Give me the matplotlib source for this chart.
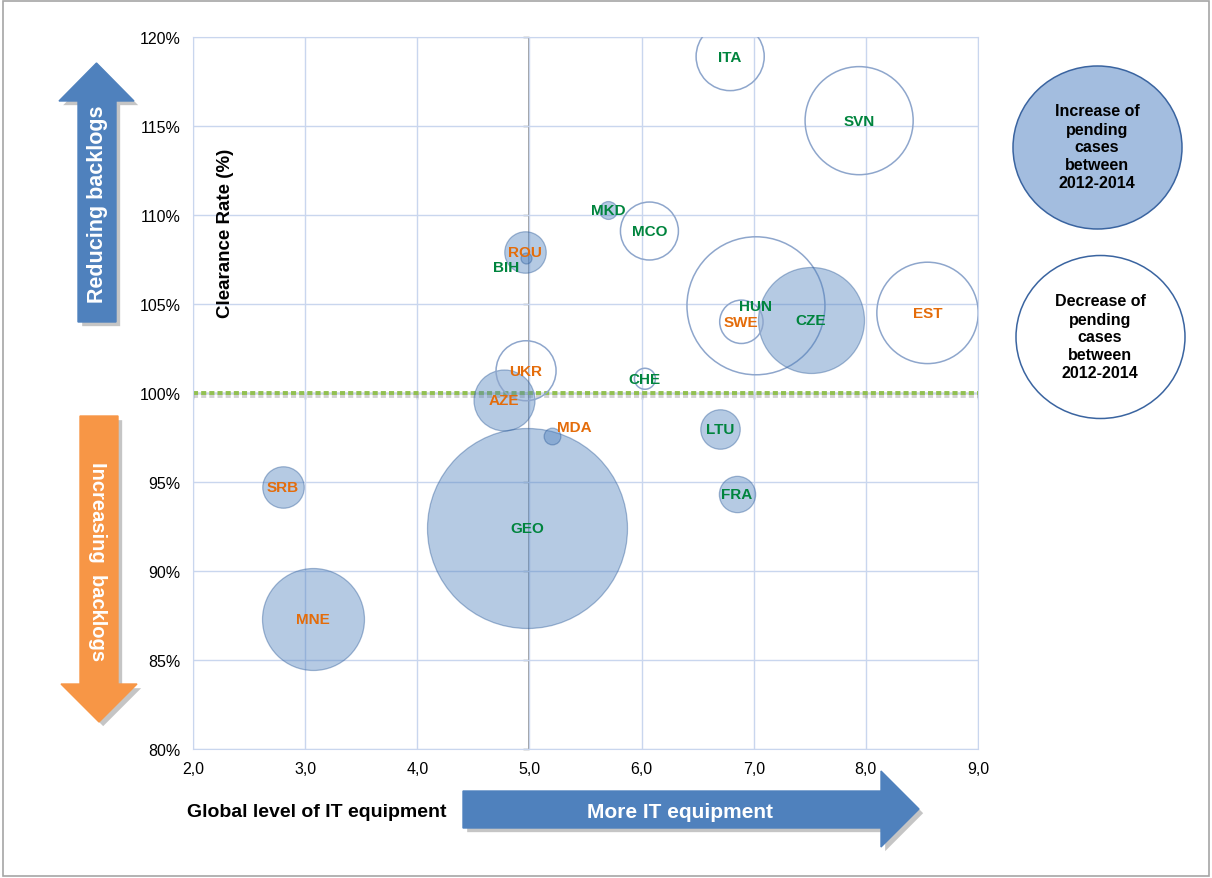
import numpy as np
import matplotlib
matplotlib.use('Agg')
import matplotlib.pyplot as plt
import matplotlib.patches as mpatches
import matplotlib.patheffects as pe

plt.rcParams['font.family'] = ['Liberation Sans', 'DejaVu Sans']

# data
countries = ['ITA', 'SVN', 'MKD', 'MCO', 'ROU', 'BIH', 'UKR', 'AZE', 'CHE', 'MDA',
             'HUN', 'SWE', 'CZE', 'EST', 'LTU', 'FRA', 'SRB', 'MNE', 'GEO']
it_level = [6.79, 7.94, 5.70, 6.07, 4.96, 4.97, 4.97, 4.77, 6.03, 5.20,
            7.02, 6.89, 7.51, 8.55, 6.70, 6.85, 2.80, 3.07, 4.98]
clearance = [118.9, 115.3, 110.3, 109.1, 107.9, 107.6, 101.25, 99.6, 100.8, 97.6,
             104.9, 104.0, 104.1, 104.5, 98.0, 94.3, 94.7, 87.3, 92.4]
bubble_size = [11.6, 29.2, 0.8, 8.4, 4.3, 0.3, 9.0, 9.3, 1.1, 0.7,
               47.6, 4.7, 28.1, 25.7, 3.9, 3.3, 4.3, 26.0, 100.0]
pending_up = [False, False, True, False, True, True, False, True, False, True,
              False, False, True, False, True, True, True, True, True]
label_orange = [False, False, False, False, True, False, True, True, False, True,
                False, True, False, True, False, False, True, True, False]

x_ticks = [2, 3, 4, 5, 6, 7, 8, 9]
y_ticks = [80, 85, 90, 95, 100, 105, 110, 115, 120]

W, H = 1212, 879
fig = plt.figure(figsize=(W / 100, H / 100), dpi=100)
ax = fig.add_axes([193 / W, 1 - 750 / H, (978 - 193) / W, (750 - 38) / H])


def px(x, y):
    # pixel position -> inches (for drawing decorations in figure space)
    return (x / 100, (H - y) / 100)


grid_col = '#C9D6EE'
ax.set_xlim(2, 9)
ax.set_ylim(80, 120)
ax.set_xticks(x_ticks)
ax.set_yticks(y_ticks)
ax.set_xticklabels([f'{v:.1f}'.replace('.', ',') for v in x_ticks], fontsize=11.5)
ax.set_yticklabels([f'{v}%' for v in y_ticks], fontsize=11.5)
ax.tick_params(length=0, pad=9)
ax.grid(True, color=grid_col, lw=1)
for s in ax.spines.values():
    s.set_color(grid_col)

# crossing axes at x=5 and y=100%
ax.axvline(5, color='#7F7F7F', lw=1.1, zorder=1)
ax.plot(np.full(len(y_ticks), 5.0), y_ticks, ls='none', marker=0, ms=4,
        color='#7F7F7F', mew=1, zorder=1, clip_on=False)
ax.axhline(100, color='#808080', lw=1, zorder=1)
ax.plot(x_ticks, np.full(len(x_ticks), 100.0), ls='none', marker=3, ms=4,
        color='#808080', mew=1, zorder=1)
ax.axhline(100, color='#92C050', lw=2.8, ls=(0, (1.3, 0.8)), zorder=2,
           path_effects=[pe.SimpleLineShadow(offset=(0, -2.5), shadow_color='#808080', alpha=0.35),
                         pe.Normal()])

# bubbles, biggest first
order = np.argsort(bubble_size)[::-1]
for i in order:
    s = bubble_size[i] * (2 * 10 * 0.72) ** 2
    if pending_up[i]:
        ax.scatter(it_level[i], clearance[i], s=s, color='#4F81BD', alpha=0.42,
                   edgecolors='#2E5C99', linewidths=0.9, zorder=3)
    else:
        ax.scatter(it_level[i], clearance[i], s=s, facecolors='none',
                   edgecolors='#8EA6CC', linewidths=1.1, zorder=3)

label_shift = {'BIH': (-14.5, -6.5), 'MDA': (16, 6.5)}
for i, c in enumerate(countries):
    col = '#E46C0A' if label_orange[i] else '#00843D'
    ax.annotate(c, (it_level[i], clearance[i]), xytext=label_shift.get(c, (0, 0)),
                textcoords='offset points', ha='center', va='center',
                fontsize=11, fontweight='bold', color=col, zorder=5)

fig.text(225 / W, 1 - 233 / H, 'Clearance Rate (%)', rotation=90, ha='center',
         va='center', fontsize=13.5, fontweight='bold')
fig.text(317 / W, 1 - 813 / H, 'Global level of IT equipment', ha='center',
         va='center', fontsize=14, fontweight='bold')

shadow = [pe.SimplePatchShadow(offset=(3, -3), shadow_rgbFace='#808080', alpha=0.45), pe.Normal()]

# blue arrow pointing right
arr_r = [px(463, 792), px(881, 792), px(881, 772), px(919, 810), px(881, 848),
         px(881, 829), px(463, 829)]
fig.patches.append(mpatches.Polygon(arr_r, closed=True, color='#4F81BD',
                                    transform=fig.dpi_scale_trans, path_effects=shadow))
fig.text(680 / W, 1 - 812 / H, 'More IT equipment', ha='center', va='center',
         color='white', fontsize=15, fontweight='bold')

# blue arrow pointing up
arr_u = [px(78, 323), px(78, 102), px(59, 102), px(96.5, 64), px(134, 102),
         px(116, 102), px(116, 323)]
fig.patches.append(mpatches.Polygon(arr_u, closed=True, color='#4F81BD',
                                    transform=fig.dpi_scale_trans, path_effects=shadow))
fig.text(97 / W, 1 - 204 / H, 'Reducing backlogs', rotation=90, ha='center',
         va='center', color='white', fontsize=15.5, fontweight='bold')

# orange arrow pointing down
arr_d = [px(80, 417), px(118, 417), px(118, 685), px(137, 685), px(99, 723),
         px(61, 685), px(80, 685)]
fig.patches.append(mpatches.Polygon(arr_d, closed=True, color='#F79646',
                                    transform=fig.dpi_scale_trans, path_effects=shadow))
fig.text(98 / W, 1 - 562 / H, 'Increasing  backlogs', rotation=270, ha='center',
         va='center', color='white', fontsize=14.5, fontweight='bold')

# legend circles on the right
fig.patches.append(mpatches.Ellipse(px(1097.5, 148.5), 1.69, 1.63, facecolor='#A3BDDF',
                                    edgecolor='#3A64A0', lw=1.1, transform=fig.dpi_scale_trans))
fig.text(1097 / W, 1 - 148 / H, 'Increase of\npending\ncases\nbetween\n2012-2014',
         ha='center', va='center', fontsize=11.5, fontweight='bold', linespacing=1.25)
fig.patches.append(mpatches.Ellipse(px(1100.5, 338), 1.69, 1.63, facecolor='white',
                                    edgecolor='#3A64A0', lw=1.1, transform=fig.dpi_scale_trans))
fig.text(1100 / W, 1 - 338 / H, 'Decrease of\npending\ncases\nbetween\n2012-2014',
         ha='center', va='center', fontsize=11.5, fontweight='bold', linespacing=1.25)

# outer frame
fig.patches.append(mpatches.Rectangle(px(3, 877), 12.06, 8.75, fill=False,
                                      edgecolor='#A6A6A6', lw=1.2,
                                      transform=fig.dpi_scale_trans))

fig.savefig('out.png', dpi=100)
